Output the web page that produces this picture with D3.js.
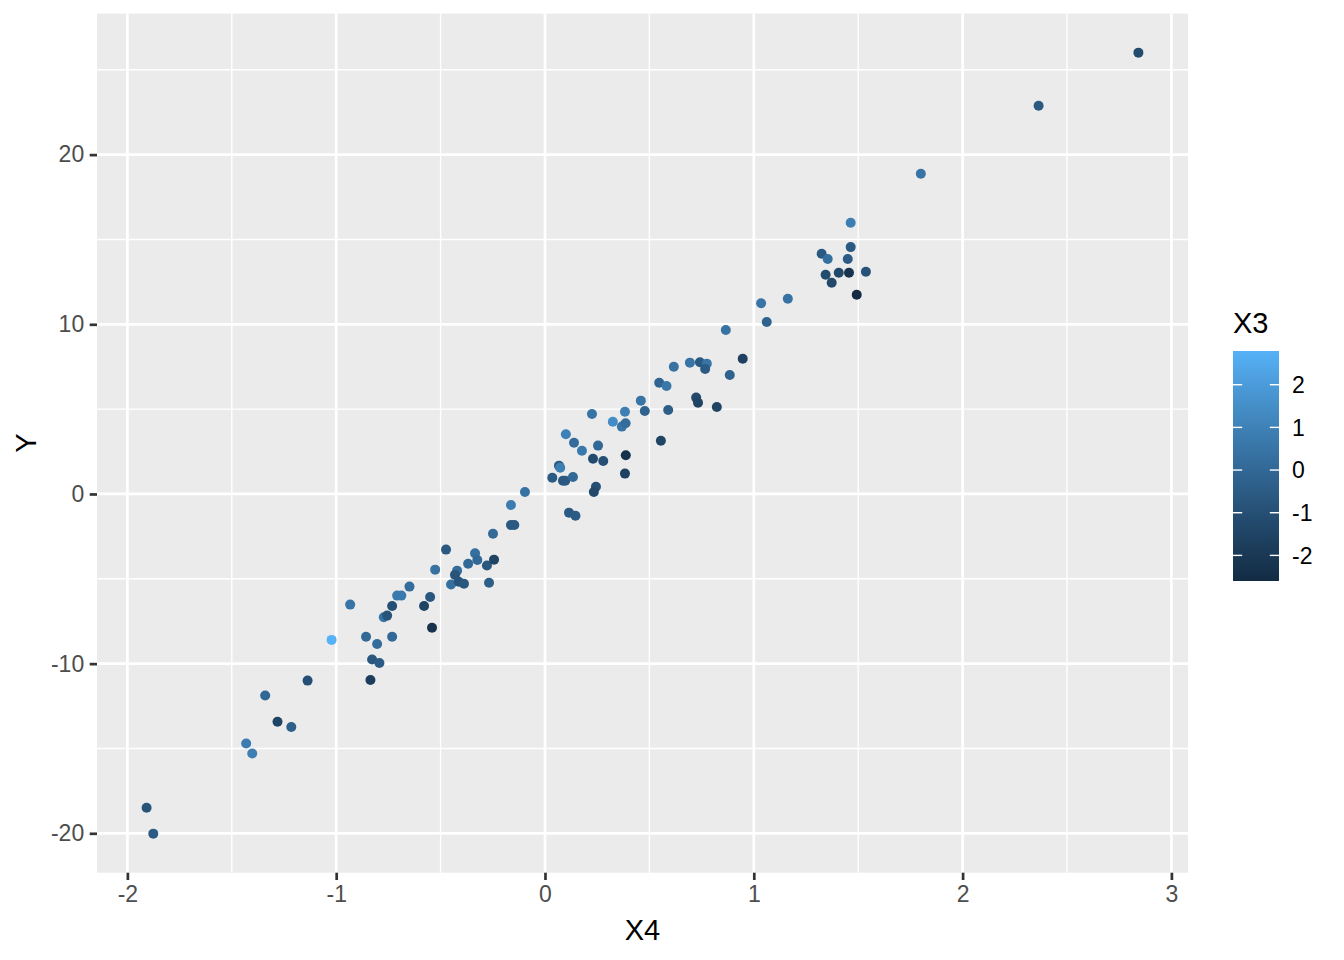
<!DOCTYPE html>
<html>
<head>
<meta charset="utf-8">
<script src="https://cdn.jsdelivr.net/npm/d3@7"></script>
<style>
  html, body { margin: 0; padding: 0; background: #ffffff; }
  svg { display: block; font-family: "Liberation Sans", Arial, sans-serif; }
</style>
</head>
<body>
<svg id="chart" width="1344" height="960"></svg>
<script>
// Data
const x4 = [-1.908,-1.876,-1.431,-1.402,-1.340,-1.281,-1.215,-1.137,-1.022,-0.933,
  -0.857,-0.804,-0.828,-0.793,-0.836,-0.732,-0.772,-0.756,-0.732,-0.708,
  -0.688,-0.649,-0.579,-0.550,-0.541,-0.526,-0.474,-0.450,-0.421,-0.431,
  -0.413,-0.388,-0.368,-0.335,-0.324,-0.278,-0.244,-0.268,-0.249,-0.163,
  -0.147,-0.163,-0.096,0.035,0.067,0.073,0.086,0.097,0.134,0.100,
  0.139,0.115,0.146,0.177,0.225,0.230,0.254,0.279,0.244,0.234,
  0.325,0.383,0.368,0.386,0.387,0.383,0.459,0.478,0.547,0.582,
  0.590,0.555,0.617,0.694,0.742,0.775,0.767,0.724,0.733,0.823,
  0.866,0.885,0.947,1.035,1.062,1.163,1.325,1.354,1.450,1.464,
  1.464,1.344,1.407,1.456,1.537,1.373,1.493,1.800,2.364,2.842];
const yVals = [-18.49,-20.02,-14.71,-15.30,-11.88,-13.42,-13.73,-11.00,-8.60,-6.52,
  -8.41,-8.84,-9.76,-9.96,-10.96,-8.41,-7.27,-7.17,-6.60,-5.99,
  -5.99,-5.46,-6.60,-6.07,-7.88,-4.46,-3.28,-5.34,-4.52,-4.77,
  -5.17,-5.29,-4.11,-3.50,-3.89,-4.22,-3.87,-5.23,-2.34,-1.83,
  -1.83,-0.65,0.12,0.96,1.67,1.55,0.78,0.78,1.00,3.52,
  3.02,-1.10,-1.28,2.55,4.71,2.08,2.85,1.94,0.43,0.12,
  4.26,4.85,3.97,4.17,2.28,1.20,5.50,4.89,6.56,6.36,
  4.95,3.14,7.50,7.74,7.76,7.68,7.37,5.68,5.38,5.13,
  9.66,7.01,7.97,11.24,10.13,11.51,14.16,13.85,13.85,14.55,
  15.99,12.92,13.04,13.04,13.10,12.45,11.74,18.87,22.88,26.01];
const x3 = [-0.8,-0.5,0.8,0.9,0.0,-1.5,-0.3,-1.0,2.79,0.5,
  0.0,0.2,-0.7,-0.5,-1.8,0.0,0.5,-0.8,-1.0,0.7,
  0.7,0.2,-1.5,-0.7,-2.3,0.4,-0.6,0.3,0.2,-0.8,
  -0.8,-0.7,0.0,0.3,0.0,-0.7,-1.5,-0.4,0.1,-0.6,
  -0.6,0.8,0.4,-0.5,-0.5,0.9,-0.6,-0.6,0.0,1.0,
  0.2,-0.5,-0.5,0.7,0.5,-1.2,0.0,-1.0,-1.0,-1.3,
  1.4,0.9,0.5,0.2,-2.3,-1.6,0.5,-0.2,-0.1,0.6,
  -0.4,-1.5,0.4,0.5,-0.6,0.5,-0.5,-1.3,-1.5,-1.5,
  0.4,-0.2,-1.6,0.5,-0.2,0.4,-0.6,0.3,-0.5,-0.6,
  0.9,-1.2,-1.3,-2.2,-0.9,-1.3,-2.6,0.5,-0.6,-1.2];
const xTicks = [-2,-1,0,1,2,3];
const yTicks = [-20,-10,0,10,20];
const legendTicks = [-2,-1,0,1,2];

const svg = d3.select("#chart");
const panel = {left: 97, right: 1188, top: 13.6, bottom: 872.7};

function expand(ext) { const r = ext[1]-ext[0]; return [ext[0]-0.05*r, ext[1]+0.05*r]; }
const x = d3.scaleLinear().domain(expand(d3.extent(x4))).range([panel.left, panel.right]);
const y = d3.scaleLinear().domain(expand(d3.extent(yVals))).range([panel.bottom, panel.top]);
const cExt = d3.extent(x3);
const color = d3.scaleLinear().domain(cExt).range(["#132B43","#56B1F7"]).interpolate(d3.interpolateLab);

// panel background
svg.append("rect").attr("x", panel.left).attr("y", panel.top)
  .attr("width", panel.right-panel.left).attr("height", panel.bottom-panel.top)
  .attr("fill", "#EBEBEB");

// minor grid
const xd = x.domain(), yd = y.domain();
const xMinor = [], yMinor = [];
for (let i = 0; i < xTicks.length-1; i++) xMinor.push((xTicks[i]+xTicks[i+1])/2);
xMinor.unshift(xTicks[0]-0.5); xMinor.push(xTicks[xTicks.length-1]+0.5);
for (let i = 0; i < yTicks.length-1; i++) yMinor.push((yTicks[i]+yTicks[i+1])/2);
yMinor.unshift(yTicks[0]-5); yMinor.push(yTicks[yTicks.length-1]+5);
const g = svg.append("g");
g.selectAll(".xm").data(xMinor.filter(v => v > xd[0] && v < xd[1])).enter().append("line")
  .attr("x1", d => x(d)).attr("x2", d => x(d)).attr("y1", panel.top).attr("y2", panel.bottom)
  .attr("stroke", "#fff").attr("stroke-width", 1.4);
g.selectAll(".ym").data(yMinor.filter(v => v > yd[0] && v < yd[1])).enter().append("line")
  .attr("y1", d => y(d)).attr("y2", d => y(d)).attr("x1", panel.left).attr("x2", panel.right)
  .attr("stroke", "#fff").attr("stroke-width", 1.4);
// major grid
g.selectAll(".xM").data(xTicks).enter().append("line")
  .attr("x1", d => x(d)).attr("x2", d => x(d)).attr("y1", panel.top).attr("y2", panel.bottom)
  .attr("stroke", "#fff").attr("stroke-width", 2.7);
g.selectAll(".yM").data(yTicks).enter().append("line")
  .attr("y1", d => y(d)).attr("y2", d => y(d)).attr("x1", panel.left).attr("x2", panel.right)
  .attr("stroke", "#fff").attr("stroke-width", 2.7);

// points
const pts = x4.map((v, i) => ({x: v, y: yVals[i], c: x3[i]}));
svg.append("g").selectAll("circle").data(pts).enter().append("circle")
  .attr("cx", d => x(d.x)).attr("cy", d => y(d.y)).attr("r", 5)
  .attr("fill", d => color(d.c));

// axes
const xAxis = d3.axisBottom(x).tickValues(xTicks).tickSize(7.3).tickPadding(5.5).tickFormat(d3.format("d"));
const gx = svg.append("g").attr("transform", `translate(0,${panel.bottom})`).call(xAxis);
gx.select(".domain").remove();
gx.selectAll(".tick line").attr("stroke", "#333333").attr("stroke-width", 2.7);
gx.selectAll(".tick text").attr("fill", "#4D4D4D").style("font-size", "23px")
  .style("font-family", "'Liberation Sans', Arial, sans-serif").text(d => String(d).replace("-", "-"));

const yAxis = d3.axisLeft(y).tickValues(yTicks).tickSize(7.3).tickPadding(5.5).tickFormat(d3.format("d"));
const gy = svg.append("g").attr("transform", `translate(${panel.left},0)`).call(yAxis);
gy.select(".domain").remove();
gy.selectAll(".tick line").attr("stroke", "#333333").attr("stroke-width", 2.7);
gy.selectAll(".tick text").attr("fill", "#4D4D4D").style("font-size", "23px")
  .style("font-family", "'Liberation Sans', Arial, sans-serif").text(d => String(d));

// axis titles
svg.append("text").attr("x", (panel.left+panel.right)/2).attr("y", 940)
  .attr("text-anchor", "middle").attr("fill", "#000").style("font-size", "29px").text("X4");
svg.append("text").attr("transform", `translate(36,${(panel.top+panel.bottom)/2}) rotate(-90)`)
  .attr("text-anchor", "middle").attr("fill", "#000").style("font-size", "29px").text("Y");

// legend
const bar = {x: 1233, y: 351, w: 46, h: 230};
const defs = svg.append("defs");
const grad = defs.append("linearGradient").attr("id", "cbar").attr("x1", 0).attr("x2", 0).attr("y1", 1).attr("y2", 0);
d3.range(0, 1.0001, 0.05).forEach(t => {
  grad.append("stop").attr("offset", t).attr("stop-color", color(cExt[0] + t*(cExt[1]-cExt[0])));
});
svg.append("rect").attr("x", bar.x).attr("y", bar.y).attr("width", bar.w).attr("height", bar.h)
  .attr("fill", "url(#cbar)");
const ly = d3.scaleLinear().domain(cExt).range([bar.y+bar.h, bar.y]);
const lg = svg.append("g");
lg.selectAll(".tl").data(legendTicks).enter().append("line")
  .attr("x1", bar.x).attr("x2", bar.x + bar.w/5).attr("y1", d => ly(d)).attr("y2", d => ly(d))
  .attr("stroke", "#fff").attr("stroke-width", 1.4);
lg.selectAll(".tr").data(legendTicks).enter().append("line")
  .attr("x1", bar.x + bar.w*4/5).attr("x2", bar.x + bar.w).attr("y1", d => ly(d)).attr("y2", d => ly(d))
  .attr("stroke", "#fff").attr("stroke-width", 1.4);
lg.selectAll("text").data(legendTicks).enter().append("text")
  .attr("x", 1292).attr("y", d => ly(d)).attr("dy", "0.36em")
  .attr("fill", "#000").style("font-size", "23px").text(d => String(d));
svg.append("text").attr("x", 1233).attr("y", 333).attr("fill", "#000")
  .style("font-size", "29px").text("X3");
</script>
</body>
</html>
